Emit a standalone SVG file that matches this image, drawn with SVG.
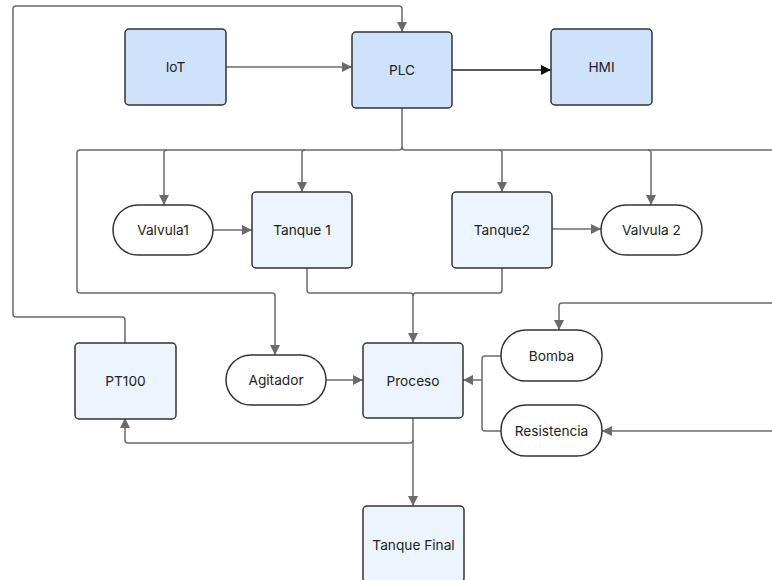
<svg xmlns="http://www.w3.org/2000/svg" width="772" height="580" viewBox="0 0 772 580">
<style>
.dk{fill:#cfe2fc;stroke:#333;stroke-width:1.5}
.lt{fill:#ecf4fe;stroke:#333;stroke-width:1.5}
.pill{fill:#fff;stroke:#333;stroke-width:1.5}
.t{font-family:Inter,"Liberation Sans",sans-serif;font-size:13.7px;fill:#222;text-anchor:middle;dominant-baseline:central}
.c{fill:none;stroke:#6b6b6b;stroke-width:1.5}
.ck{fill:none;stroke:#222;stroke-width:1.5}
</style>
<defs>
<marker id="a" viewBox="0 0 10 10" refX="10" refY="5" markerWidth="10" markerHeight="10" markerUnits="userSpaceOnUse" orient="auto"><path d="M0,0L10,5L0,10z" fill="#6b6b6b"/></marker>
<marker id="ak" viewBox="0 0 10 10" refX="10" refY="5" markerWidth="10" markerHeight="10" markerUnits="userSpaceOnUse" orient="auto"><path d="M0,0L10,5L0,10z" fill="#111"/></marker>
</defs>
<g id="connectors">
<path class="c" d="M226,67H352" marker-end="url(#a)"/>
<path class="ck" d="M452,70H551" marker-end="url(#ak)"/>
<path class="c" d="M125,343V320Q125,317 122,317H16Q13,317 13,314V9Q13,6 16,6H399Q402,6 402,9V32" marker-end="url(#a)"/>
<path class="c" d="M402,108V147Q402,150 405,150H780"/>
<path class="c" d="M402,147Q402,150 399,150H80Q77,150 77,153V290Q77,293 80,293H272Q275,293 275,296V355" marker-end="url(#a)"/>
<path class="c" d="M167,150Q164,150 164,153V205" marker-end="url(#a)"/>
<path class="c" d="M305,150Q302,150 302,153V192" marker-end="url(#a)"/>
<path class="c" d="M499,150Q502,150 502,153V192" marker-end="url(#a)"/>
<path class="c" d="M648,150Q651,150 651,153V205" marker-end="url(#a)"/>
<path class="c" d="M213,230H252" marker-end="url(#a)"/>
<path class="c" d="M552,229H601" marker-end="url(#a)"/>
<path class="c" d="M307,268V290Q307,293 310,293H410Q413,293 413,296V343" marker-end="url(#a)"/>
<path class="c" d="M502,268V290Q502,293 499,293H416Q413,293 413,296"/>
<path class="c" d="M326,380H363" marker-end="url(#a)"/>
<path class="c" d="M780,303H562Q559,303 559,306V330" marker-end="url(#a)"/>
<path class="c" d="M780,431H602" marker-end="url(#a)"/>
<path class="c" d="M501,356H485Q482,356 482,359V428Q482,431 485,431H501"/>
<path class="c" d="M482,380H463" marker-end="url(#a)"/>
<path class="c" d="M413,418V506" marker-end="url(#a)"/>
<path class="c" d="M413,440Q413,443 410,443H128Q125,443 125,440V418" marker-end="url(#a)"/>
</g>
<g id="IoT"><rect class="dk" x="125" y="29" width="101" height="76" rx="4"/><text class="t" x="175.5" y="67">IoT</text></g>
<g id="PLC"><rect class="dk" x="352" y="32" width="100" height="76" rx="4"/><text class="t" x="402" y="70">PLC</text></g>
<g id="HMI"><rect class="dk" x="551" y="29" width="101" height="76" rx="4"/><text class="t" x="601.5" y="67">HMI</text></g>
<g id="Valvula1"><rect class="pill" x="113" y="205" width="100" height="50" rx="25"/><text class="t" x="163" y="230">Valvula1</text></g>
<g id="Tanque1"><rect class="lt" x="252" y="192" width="100" height="76" rx="4"/><text class="t" x="302" y="230">Tanque 1</text></g>
<g id="Tanque2"><rect class="lt" x="452" y="192" width="100" height="76" rx="4"/><text class="t" x="502" y="230">Tanque2</text></g>
<g id="Valvula2"><rect class="pill" x="601" y="205" width="101" height="50" rx="25"/><text class="t" x="651.5" y="230">Valvula 2</text></g>
<g id="PT100"><rect class="lt" x="75" y="343" width="101" height="76" rx="4"/><text class="t" x="125.5" y="381">PT100</text></g>
<g id="Agitador"><rect class="pill" x="226" y="355" width="100" height="50" rx="25"/><text class="t" x="276" y="380">Agitador</text></g>
<g id="Proceso"><rect class="lt" x="363" y="343" width="100" height="75" rx="4"/><text class="t" x="413" y="381">Proceso</text></g>
<g id="Bomba"><rect class="pill" x="501" y="330" width="101" height="51" rx="25"/><text class="t" x="551.5" y="356">Bomba</text></g>
<g id="Resistencia"><rect class="pill" x="501" y="405" width="101" height="51" rx="25"/><text class="t" x="551.5" y="431">Resistencia</text></g>
<g id="TanqueFinal"><rect class="lt" x="363" y="506" width="101" height="76" rx="4"/><text class="t" x="413.5" y="545">Tanque Final</text></g>
</svg>
